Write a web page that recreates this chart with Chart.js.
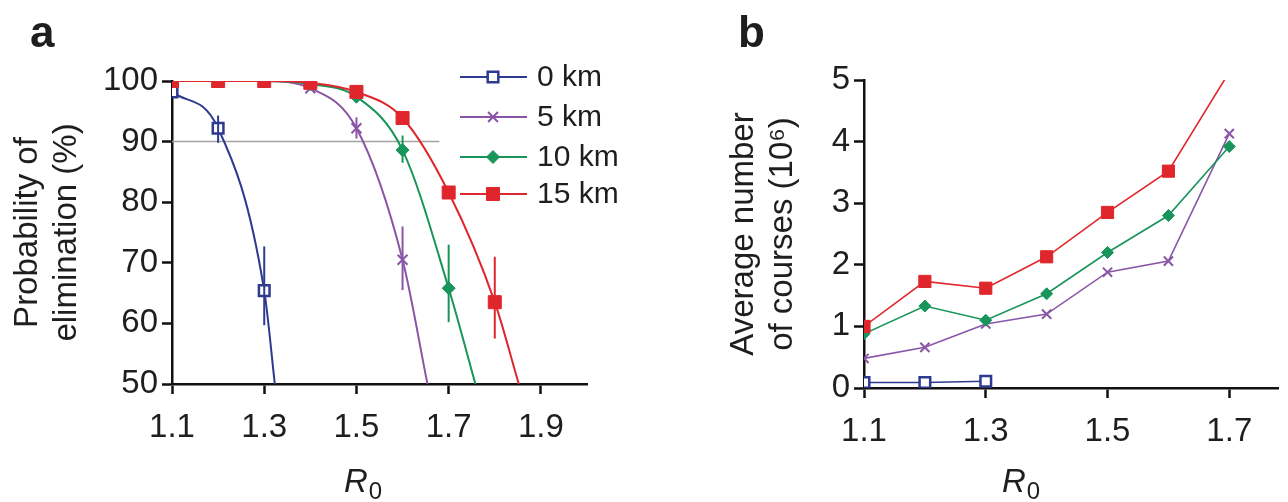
<!DOCTYPE html>
<html>
<head>
<meta charset="utf-8">
<script src="https://cdn.jsdelivr.net/npm/chart.js@4.4.0/dist/chart.umd.min.js"></script>
<style>
  html, body { margin: 0; padding: 0; background: #fff; overflow: hidden; }
  #wrapA { position: absolute; left: 0; top: 0; width: 680px; height: 502px; }
  #wrapB { position: absolute; left: 680px; top: 0; width: 608px; height: 502px; }
</style>
</head>
<body>
<div id="wrapA"><canvas id="chartA"></canvas></div>
<div id="wrapB"><canvas id="chartB"></canvas></div>
<script>
// ---- panel a : probability of elimination (%) vs R0 ----
const seriesLabels = ['0 km', '5 km', '10 km', '15 km'];
const rA = [1.1, 1.2, 1.3, 1.4, 1.5, 1.6, 1.7, 1.8];
const elim0 = [98.2, 92.2, 65.4];
const elim5 = [100, 100, 100, 98.8, 92.2, 70.5];
const elim10 = [100, 100, 100, 99.5, 97.4, 88.6, 65.8];
const elim15 = [100, 100, 100, 99.7, 98.2, 93.9, 81.6, 63.5];
// R0 where each fitted curve runs out of the bottom of the axis (at 50 %)
const fitEndR = [1.323, 1.654, 1.758, 1.852];
const fitEndY = 50;
// 90 % reference line
const refLineR = [1.1, 1.68];
const refLineY = 90;
// error bars
const errR = [1.2, 1.3, 1.5, 1.6, 1.6, 1.7, 1.8];
const errLow = [89.8, 59.7, 90.5, 65.5, 86.5, 60.2, 57.5];
const errHigh = [94.3, 72.7, 94, 76, 91, 73, 71];
const errSeries = [0, 0, 1, 1, 2, 2, 3];
const xTicksA = [1.1, 1.3, 1.5, 1.7, 1.9];
const yTicksA = [50, 60, 70, 80, 90, 100];

// ---- panel b : average number of courses (10^6) vs R0 ----
const rB = [1.1, 1.2, 1.3, 1.4, 1.5, 1.6, 1.7];
const courses0 = [0.09, 0.09, 0.11];
const courses5 = [0.48, 0.66, 1.04, 1.2, 1.88, 2.06, 4.13];
const courses10 = [0.88, 1.33, 1.1, 1.53, 2.2, 2.8, 3.92];
const courses15 = [1.0, 1.73, 1.62, 2.13, 2.85, 3.52, 5.13];
const xTicksB = [1.1, 1.3, 1.5, 1.7];
const yTicksB = [0, 1, 2, 3, 4, 5];

const FONT = "'Liberation Sans', Arial, Helvetica, sans-serif";
const INK = '#1e1e1e';
const colors = ['#2e3a8f', '#8b55a6', '#18955a', '#e0262d'];
const styles = ['rect', 'crossRot', 'rectRot', 'rect'];
const fills = ['#ffffff', '#8b55a6', '#18955a', '#e0262d'];

Chart.defaults.font.family = FONT;
Chart.defaults.color = INK;
Chart.defaults.animation = false;

const pts = (xs, ys) => xs.map((x, i) => ({x: x, y: ys[i]}));

function drawMarker(ctx, style, r, x, y, fill, stroke, lw) {
  ctx.save();
  ctx.lineWidth = lw; ctx.strokeStyle = stroke; ctx.fillStyle = fill;
  ctx.beginPath();
  if (style === 'rect') {
    const s = r * Math.SQRT1_2;
    ctx.rect(x - s, y - s, 2 * s, 2 * s); ctx.fill(); ctx.stroke();
  } else if (style === 'rectRot') {
    ctx.moveTo(x, y - r); ctx.lineTo(x + r, y); ctx.lineTo(x, y + r); ctx.lineTo(x - r, y);
    ctx.closePath(); ctx.fill(); ctx.stroke();
  } else {
    const d = r * Math.SQRT1_2;
    ctx.moveTo(x - d, y - d); ctx.lineTo(x + d, y + d);
    ctx.moveTo(x + d, y - d); ctx.lineTo(x - d, y + d); ctx.stroke();
  }
  ctx.restore();
}

// panel letter and italic R0 axis label
const figText = {
  id: 'figText',
  afterDraw(chart, args, o) {
    const ctx = chart.ctx;
    ctx.save();
    ctx.fillStyle = INK;
    ctx.textBaseline = 'alphabetic';
    ctx.font = 'bold 44px ' + FONT;
    ctx.fillText(o.letter, o.letterX, o.letterY);
    ctx.font = 'italic 33px ' + FONT;
    ctx.fillText('R', o.rX, o.rY);
    const w = ctx.measureText('R').width;
    ctx.font = '24px ' + FONT;
    ctx.fillText('0', o.rX + w + 1, o.rY + 7);
    ctx.restore();
  }
};

const errorBars = {
  id: 'errorBars',
  afterDatasetsDraw(chart) {
    const {ctx, scales: {x, y}} = chart;
    ctx.save();
    ctx.lineWidth = 2;
    errR.forEach((r, i) => {
      ctx.strokeStyle = colors[errSeries[i]];
      const px = x.getPixelForValue(r);
      ctx.beginPath();
      ctx.moveTo(px, y.getPixelForValue(errLow[i]));
      ctx.lineTo(px, y.getPixelForValue(errHigh[i]));
      ctx.stroke();
    });
    ctx.restore();
  }
};

const legendA = {
  id: 'legendA',
  afterDraw(chart) {
    const ctx = chart.ctx;
    const rowsY = [77, 117, 157, 194];
    seriesLabels.forEach((lab, i) => {
      const ds = chart.data.datasets.find(d => d.label === lab);
      ctx.save();
      ctx.strokeStyle = colors[i]; ctx.lineWidth = 2;
      ctx.beginPath(); ctx.moveTo(460, rowsY[i]); ctx.lineTo(527, rowsY[i]); ctx.stroke();
      ctx.restore();
      drawMarker(ctx, styles[i], ds.pointRadius ? (typeof ds.pointRadius === 'function' ? ds.markerR : ds.pointRadius) : 6,
        493, rowsY[i], fills[i], colors[i], ds.pointBorderWidth);
      ctx.save();
      ctx.fillStyle = INK; ctx.font = '30px ' + FONT; ctx.textBaseline = 'middle';
      ctx.fillText(lab, 537, rowsY[i] + 1);
      ctx.restore();
    });
  }
};

function axisX(min, max, ticks, height, pad) {
  return {
    type: 'linear', min: min, max: max,
    afterBuildTicks: s => { s.ticks = ticks.map(v => ({value: v})); },
    afterFit: s => { s.height = height; },
    ticks: {callback: v => v.toFixed(1), font: {size: 33}, color: INK, padding: pad, autoSkip: false, maxRotation: 0},
    grid: {display: true, drawOnChartArea: false, drawTicks: true, tickLength: 10, tickWidth: 2.5, tickColor: '#111'},
    border: {display: true, color: '#111', width: 2.5}
  };
}
function axisY(min, max, ticks, width, title, titlePad) {
  return {
    type: 'linear', min: min, max: max,
    afterBuildTicks: s => { s.ticks = ticks.map(v => ({value: v})); },
    afterFit: s => { s.width = width; },
    ticks: {font: {size: 33}, color: INK, padding: 4},
    grid: {display: true, drawOnChartArea: false, drawTicks: true, tickLength: 10, tickWidth: 2.5, tickColor: '#111'},
    border: {display: true, color: '#111', width: 2.5},
    title: {display: true, text: title, font: {size: 33}, color: INK, padding: {top: titlePad, bottom: 0}}
  };
}

function seriesA(i, xs, ys, r, lw, order) {
  const n = xs.length;
  return {
    label: seriesLabels[i], order: order,
    data: pts(xs, ys).concat([{x: fitEndR[i], y: fitEndY}]),
    borderColor: colors[i], borderWidth: 2,
    cubicInterpolationMode: 'monotone',
    pointStyle: styles[i], markerR: r,
    pointRadius: c => c.dataIndex < n ? r : 0,
    pointBackgroundColor: fills[i], pointBorderColor: colors[i], pointBorderWidth: lw
  };
}

new Chart(document.getElementById('chartA'), {
  type: 'line',
  data: {
    datasets: [
      {label: 'ref', order: 9, data: pts(refLineR, refLineR.map(() => refLineY)), borderColor: '#a3a3a3', borderWidth: 1.5, pointRadius: 0},
      seriesA(0, rA.slice(0, elim0.length), elim0, 7.5, 2.5, 3),
      seriesA(1, rA.slice(0, elim5.length), elim5, 7, 2, 2),
      seriesA(2, rA.slice(0, elim10.length), elim10, 6.5, 1, 1),
      seriesA(3, rA.slice(0, elim15.length), elim15, 9.2, 1, 0)
    ]
  },
  options: {
    responsive: true, maintainAspectRatio: false,
    layout: {padding: {top: 81, right: 93, bottom: 0, left: 0}},
    plugins: {legend: {display: false}, tooltip: {enabled: false},
      figText: {letter: 'a', letterX: 30, letterY: 47, rX: 344, rY: 492}},
    scales: {
      x: axisX(1.1, 2.0, xTicksA, 118, 14),
      y: axisY(50, 100, yTicksA, 172, ['Probability of', 'elimination (%)'], 8)
    }
  },
  plugins: [errorBars, legendA, figText]
});

function seriesB(i, ys, r, lw, order, lastMarked) {
  return {
    label: seriesLabels[i], order: order,
    data: pts(rB.slice(0, ys.length), ys),
    borderColor: colors[i], borderWidth: 1.6, tension: 0,
    pointStyle: styles[i],
    pointRadius: c => c.dataIndex < lastMarked ? r : 0,
    pointBackgroundColor: fills[i], pointBorderColor: colors[i], pointBorderWidth: lw
  };
}

new Chart(document.getElementById('chartB'), {
  type: 'line',
  data: {
    datasets: [
      seriesB(0, courses0, 7.5, 2.5, 3, courses0.length),
      seriesB(1, courses5, 6.5, 2, 2, courses5.length),
      seriesB(2, courses10, 6, 1, 1, courses10.length),
      seriesB(3, courses15, 8.6, 1, 0, courses15.length - 1)
    ]
  },
  options: {
    responsive: true, maintainAspectRatio: false,
    layout: {padding: {top: 80, right: 0, bottom: 0, left: 0}},
    plugins: {legend: {display: false}, tooltip: {enabled: false},
      figText: {letter: 'b', letterX: 58, letterY: 47, rX: 322, rY: 492}},
    scales: {
      x: axisX(1.1, 1.78, xTicksB, 114, 14),
      y: axisY(0, 5, yTicksB, 184, ['Average number', 'of courses (10⁶)'], 44)
    }
  },
  plugins: [figText]
});
</script>
</body>
</html>
